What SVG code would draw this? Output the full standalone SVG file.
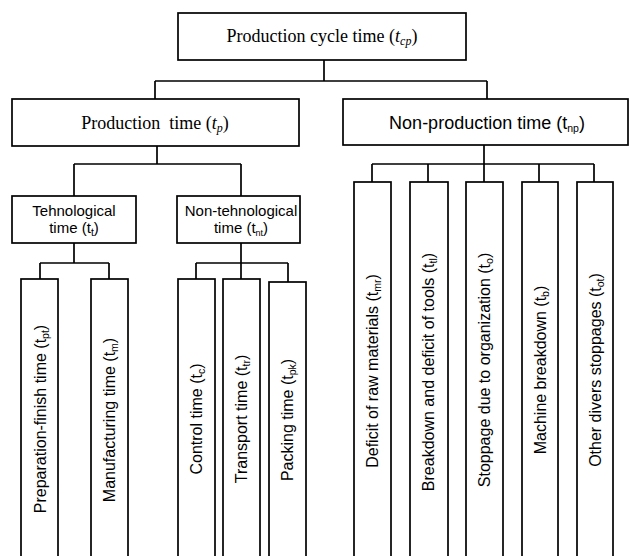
<svg xmlns="http://www.w3.org/2000/svg" width="630" height="556" viewBox="0 0 630 556">
<style>
.box{fill:#fff;stroke:#000;stroke-width:1.7}
.ln{fill:none;stroke:#000;stroke-width:1.7}
.serif{font-family:"Liberation Serif","Times New Roman",serif;font-size:18px;fill:#000}
.sans{font-family:"Liberation Sans",Arial,sans-serif;fill:#000}
.l2{font-size:15px}
.l1{font-size:18px}
.v{font-size:16px}
.sub{font-size:10.5px}
</style>
<rect width="630" height="556" fill="#fff"/>
<g id="connectors">
<path class="ln" d="M324 60V81M155 81H487M155 81V99M487 81V99"/>
<path class="ln" d="M157 146V164M74 164H241M74 164V196M241 164V196"/>
<path class="ln" d="M74 243V263M40 263H109M40 263V279M109 263V279"/>
<path class="ln" d="M241 243V263M196 263H288M196 263V279M241 263V279M288 263V282"/>
<path class="ln" d="M484 145V164M372 164H594M372 164V182M428 164V182M484 164V182M539 164V182M594 164V182"/>
</g>
<g id="n-cycle">
<rect class="box" x="178" y="13" width="288" height="47"/>
<text class="serif" x="322" y="42" text-anchor="middle">Production cycle time (<tspan font-style="italic">t</tspan><tspan font-style="italic" font-size="12" dy="3">cp</tspan><tspan dy="-3">)</tspan></text>
</g>
<g id="n-prod">
<rect class="box" x="12" y="99" width="287" height="47"/>
<text class="serif" x="155" y="128.5" text-anchor="middle">Production&#160; time (<tspan font-style="italic">t</tspan><tspan font-style="italic" font-size="12" dy="3">p</tspan><tspan dy="-3">)</tspan></text>
</g>
<g id="n-nonprod">
<rect class="box" x="343" y="99" width="285" height="46"/>
<text class="sans l1" x="487" y="128.5" text-anchor="middle">Non-production time (t<tspan class="sub" dy="3">np</tspan><tspan dy="-3">)</tspan></text>
</g>
<g id="n-tech">
<rect class="box" x="12" y="196" width="124" height="47"/>
<text class="sans l2" x="74" y="216" text-anchor="middle">Tehnological</text>
<text class="sans l2" x="74" y="233" text-anchor="middle">time (t<tspan class="sub" font-size="9" dy="2.5">t</tspan><tspan dy="-2.5">)</tspan></text>
</g>
<g id="n-nontech">
<rect class="box" x="177" y="196" width="123" height="47"/>
<text class="sans l2" x="241" y="216" text-anchor="middle">Non-tehnological</text>
<text class="sans l2" x="241" y="233" text-anchor="middle">time (t<tspan font-size="9" dy="2.5">nt</tspan><tspan dy="-2.5">)</tspan></text>
</g>
<g id="n-prep">
<rect class="box" x="21" y="279" width="37" height="290"/>
<text class="sans v" transform="translate(46,419) rotate(-90)" text-anchor="middle">Preparation-finish time (t<tspan class="sub" dy="3">pt</tspan><tspan dy="-3">)</tspan></text>
</g>
<g id="n-manu">
<rect class="box" x="91" y="279" width="37" height="290"/>
<text class="sans v" transform="translate(115,420) rotate(-90)" text-anchor="middle">Manufacturing time (t<tspan class="sub" dy="3">m</tspan><tspan dy="-3">)</tspan></text>
</g>
<g id="n-control">
<rect class="box" x="178" y="279" width="37" height="290"/>
<text class="sans v" transform="translate(202,419) rotate(-90)" text-anchor="middle">Control time (t<tspan class="sub" dy="3">c</tspan><tspan dy="-3">)</tspan></text>
</g>
<g id="n-transport">
<rect class="box" x="223" y="279" width="37" height="290"/>
<text class="sans v" transform="translate(247,419) rotate(-90)" text-anchor="middle">Transport time (t<tspan class="sub" dy="3">tr</tspan><tspan dy="-3">)</tspan></text>
</g>
<g id="n-packing">
<rect class="box" x="269" y="282" width="37" height="290"/>
<text class="sans v" transform="translate(293,420) rotate(-90)" text-anchor="middle">Packing time (t<tspan class="sub" dy="3">pk</tspan><tspan dy="-3">)</tspan></text>
</g>
<g id="n-deficit">
<rect class="box" x="354" y="182" width="37" height="390"/>
<text class="sans v" transform="translate(378,371) rotate(-90)" text-anchor="middle">Deficit of raw materials (t<tspan class="sub" dy="3">mr</tspan><tspan dy="-3">)</tspan></text>
</g>
<g id="n-tools">
<rect class="box" x="410" y="182" width="38" height="390"/>
<text class="sans v" transform="translate(434,372) rotate(-90)" text-anchor="middle">Breakdown and deficit of tools (t<tspan class="sub" dy="3">tl</tspan><tspan dy="-3">)</tspan></text>
</g>
<g id="n-org">
<rect class="box" x="466" y="182" width="37" height="390"/>
<text class="sans v" transform="translate(490,370) rotate(-90)" text-anchor="middle">Stoppage due to organization (t<tspan class="sub" dy="3">o</tspan><tspan dy="-3">)</tspan></text>
</g>
<g id="n-machine">
<rect class="box" x="522" y="182" width="36" height="390"/>
<text class="sans v" transform="translate(546,370) rotate(-90)" text-anchor="middle">Machine breakdown (t<tspan class="sub" dy="3">b</tspan><tspan dy="-3">)</tspan></text>
</g>
<g id="n-other">
<rect class="box" x="577" y="182" width="36" height="390"/>
<text class="sans v" transform="translate(601,370) rotate(-90)" text-anchor="middle">Other divers stoppages (t<tspan class="sub" dy="3">ot</tspan><tspan dy="-3">)</tspan></text>
</g>
</svg>
